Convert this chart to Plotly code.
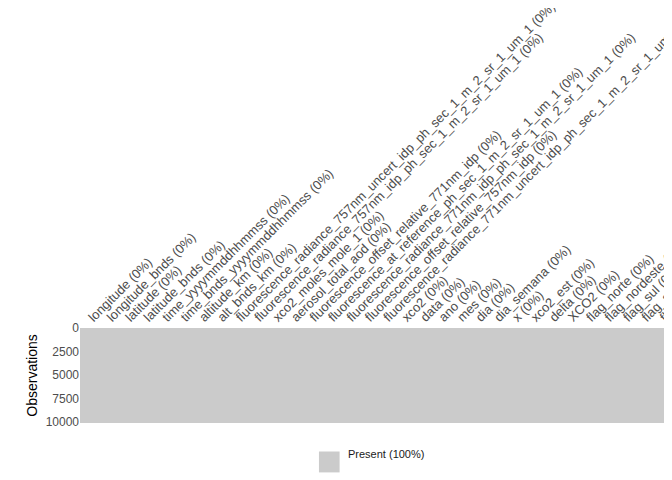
import plotly.graph_objects as go

# column names (all present, 0% missing)
columns = [
    "longitude", "longitude_bnds", "latitude", "latitude_bnds",
    "time_yyyymmddhhmmss", "time_bnds_yyyymmddhhmmss", "altitude_km", "alt_bnds_km",
    "fluorescence_radiance_757nm_uncert_idp_ph_sec_1_m_2_sr_1_um_1",
    "fluorescence_radiance_757nm_idp_ph_sec_1_m_2_sr_1_um_1",
    "xco2_moles_mole_1", "aerosol_total_aod",
    "fluorescence_offset_relative_771nm_idp",
    "fluorescence_at_reference_ph_sec_1_m_2_sr_1_um_1",
    "fluorescence_radiance_771nm_idp_ph_sec_1_m_2_sr_1_um_1",
    "fluorescence_offset_relative_757nm_idp",
    "fluorescence_radiance_771nm_uncert_idp_ph_sec_1_m_2_sr_1_um_1",
    "xco2", "data", "ano", "mes", "dia", "dia_semana", "x", "xco2_est",
    "delta", "XCO2", "flag_norte", "flag_nordeste", "flag_sul", "flag_sudeste",
    "flag_centroeste",
]
missing_pct = [0] * len(columns)
n_obs = 10100
y_ticks = [0, 2500, 5000, 7500, 10000]
y_tick_text = ["0", "2500", "5000", "7500", "10000"]

labels = [f"{c} ({p}%)" for c, p in zip(columns, missing_pct)]

fig = go.Figure(go.Heatmap(
    z=[[1] * len(columns)],
    x=labels,
    y=[0, n_obs],
    colorscale=[[0, "#cbcbcb"], [1, "#cbcbcb"]],
    showscale=False,
    hoverinfo="skip",
))

# legend key
fig.add_shape(type="rect", xref="paper", yref="paper",
              x0=0.405, x1=0.44, y0=-0.52, y1=-0.3,
              fillcolor="#cbcbcb", line_width=0)
fig.add_annotation(text="Present (100%)", xref="paper", yref="paper",
                   x=0.45, y=-0.41, xanchor="left", showarrow=False,
                   font=dict(size=11, color="#1a1a1a"))

fig.update_layout(
    width=672, height=480,
    margin=dict(l=72, r=10, t=320, b=65),
    plot_bgcolor="white", paper_bgcolor="white",
    font=dict(family="Liberation Sans, Arial", color="#4d4d4d"),
    xaxis=dict(side="top", tickangle=-45, tickfont=dict(size=13, color="#4d4d4d"),
               showgrid=False, ticks="", automargin=False),
    yaxis=dict(range=[n_obs, 0], tickvals=y_ticks, ticktext=y_tick_text,
               tickfont=dict(size=12, color="#4d4d4d"),
               showgrid=False, zeroline=False, ticks="",
               title=dict(text="Observations", font=dict(size=14, color="#000000"), standoff=4)),
)

fig.write_html("out.html")
